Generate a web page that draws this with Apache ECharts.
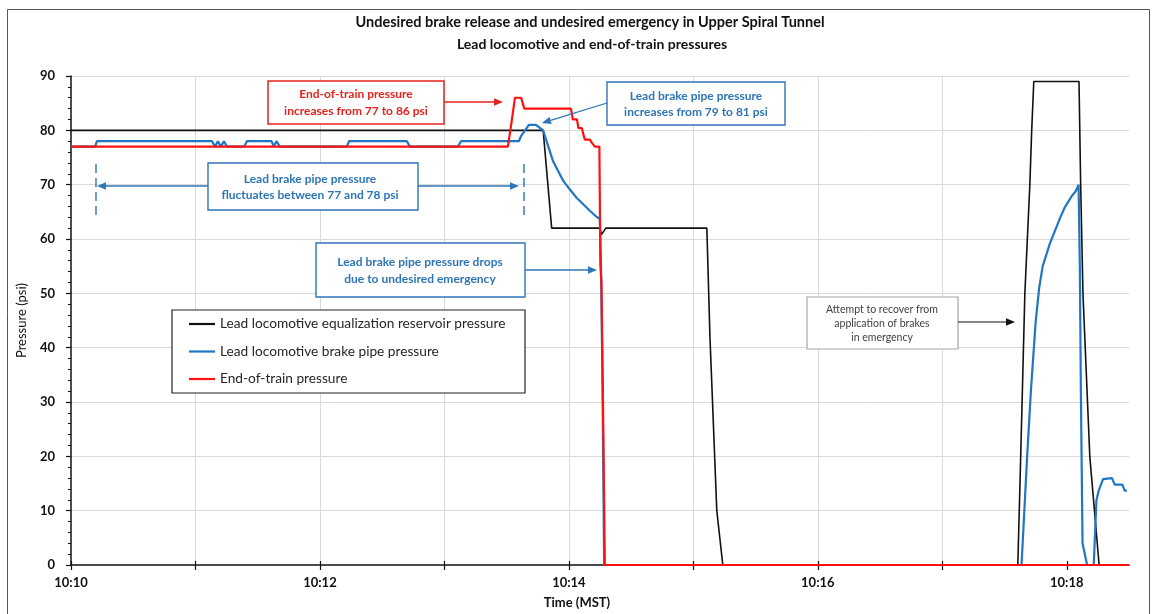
<!DOCTYPE html>
<html><head><meta charset="utf-8">
<script src="https://cdn.jsdelivr.net/npm/echarts@6/dist/echarts.min.js"></script>
<style>html,body{margin:0;padding:0;background:#fff}#c{width:1155px;height:614px}</style>
</head><body><div id="c"></div>
<script>
// time is in seconds after 10:10:00 (MST)
const xTickValues = [0, 120, 240, 360, 480];
const xTickLabels = ['10:10', '10:12', '10:14', '10:16', '10:18'];
const xMinorTicks = [0, 60, 120, 180, 240, 300, 360, 420, 480];
const seriesNames = ['Lead locomotive equalization reservoir pressure', 'Lead locomotive brake pipe pressure', 'End-of-train pressure'];

const eqReservoir = [[0,80],[227.6,80],[231.7,62],[254.9,62],[255.7,60.8],[257.8,62],[306.5,62],[308,42],[311.3,10],[314.2,0],
  [456.4,0],[457.8,20],[459.8,50],[462.2,70],[463.1,80],[464.1,89],[485.9,89],[486.7,70],[487.8,50],[491.1,20],[495.6,0],[510,0]];

const brakePipe = [[0,77],[11.6,77],[12.5,78],[68,78],[69.4,77],[70.8,78],[72.3,77],[73.7,78],[75.2,77],
  [83.5,77],[84.8,78],[96.7,78],[97.8,77],[99,78],[100.7,77],[133,77],[134,78],[161.9,78],[163.4,77],
  [186.5,77],[188,78],[215.9,78],[217,79],[217.8,79],[220.7,81],[224.1,81],[227.6,80],[230,77.1],[232.4,74.3],
  [234.8,72.5],[237.3,70.7],[240.5,69.1],[243.7,67.6],[246.9,66.4],[250.1,65.2],[253.3,64.1],[254.9,63.7],
  [255.5,55],[256.3,30],[257,0],[458.2,0],[460.9,20],[462.7,32],[465,44.7],[466.7,51],[468.4,55],[471.8,59.1],
  [476.6,63.7],[479,65.8],[482.4,67.9],[484.3,68.8],[485.7,70],[486.3,55],[486.8,32],[487.6,4],[489.8,0],
  [493,0],[494.3,11.9],[495.4,13.7],[497.5,15.8],[501.8,16],[503.1,14.8],[506.8,14.8],[507.9,13.7],[509,13.7]];

const endOfTrain = [[0,77],[210.6,77],[212.4,81.6],[214,86],[217,86],[218.5,84],[241,84],[241.9,82],[243.9,82],
  [244.6,80.4],[246.3,80.4],[247,79.2],[247.7,78.3],[250.1,78.3],[251.1,77.7],[252.5,77],[254.7,77],
  [255.2,55],[255.7,52],[256.6,25],[257.3,0],[510,0]];

const FONT = 'Lato, "Open Sans", "Liberation Sans", sans-serif';
const BLUE = '#2e75b6', RED = '#e3231d';
const LINE_ICON = 'path://M0 0H26V2.2H0Z';

function box(x, y, w, h, stroke, lw) {
  return {type:'rect', shape:{x:x, y:y, width:w, height:h}, style:{fill:'#fff', stroke:stroke, lineWidth:lw||1.4}, z:3, silent:true};
}
function txt(x, y, text, color, size, weight, lh) {
  return {type:'text', x:x, y:y, style:{text:text, fill:color, fontFamily:FONT, fontSize:size, fontWeight:weight||'bold',
    align:'center', verticalAlign:'middle', lineHeight:lh||16}, z:5, silent:true};
}
function arrow(x1, y1, x2, y2, color, lw) {
  const dx = x2 - x1, dy = y2 - y1, L = Math.sqrt(dx*dx + dy*dy), ux = dx/L, uy = dy/L;
  const hl = 9, hw = 3.8;
  const bx = x2 - ux*hl, by = y2 - uy*hl;
  return [
    {type:'line', shape:{x1:x1, y1:y1, x2:bx, y2:by}, style:{stroke:color, lineWidth:lw||1.3}, z:5, silent:true},
    {type:'polygon', shape:{points:[[x2,y2],[bx - uy*hw, by + ux*hw],[bx + uy*hw, by - ux*hw]]}, style:{fill:color}, z:5, silent:true}
  ];
}
function dashed(x, y1, y2, color) {
  return {type:'line', shape:{x1:x, y1:y1, x2:x, y2:y2}, style:{stroke:color, lineWidth:1.4, lineDash:[9,5]}, z:5, silent:true};
}

const graphics = [
  {type:'rect', shape:{x:7.5, y:9.5, width:1142, height:640}, style:{fill:null, stroke:'#555', lineWidth:1}, z:0, silent:true},
  txt(590, 22, 'Undesired brake release and undesired emergency in Upper Spiral Tunnel', '#111', 14.5, 'bold'),
  txt(592, 44, 'Lead locomotive and end-of-train pressures', '#111', 14, 'bold'),
  // legend frame
  box(172, 310, 353, 83, '#222', 1.2),
  // EOT annotation
  box(268, 81, 176, 43, RED, 1.5),
  txt(356, 103, 'End-of-train pressure\nincreases from 77 to 86 psi', RED, 12, 'bold', 17),
  ...arrow(444, 102, 503, 102, RED, 1.5),
  // BP increase annotation
  box(607, 82, 178, 43, BLUE),
  txt(696, 104, 'Lead brake pipe pressure\nincreases from 79 to 81 psi', BLUE, 12, 'bold', 16),
  ...arrow(607, 103, 542, 123, BLUE),
  // BP fluctuation annotation
  box(208, 163, 210, 47, BLUE),
  txt(310, 187, 'Lead brake pipe pressure\nfluctuates between 77 and 78 psi', BLUE, 12, 'bold', 16),
  ...arrow(208, 186, 97, 186, BLUE),
  ...arrow(418, 186, 519, 186, BLUE),
  dashed(96, 164, 216, BLUE),
  dashed(524, 164, 216, BLUE),
  // BP drop annotation
  box(316, 243, 209, 54, BLUE),
  txt(420, 270.5, 'Lead brake pipe pressure drops\ndue to undesired emergency', BLUE, 12, 'bold', 17),
  ...arrow(525, 270, 597, 270, BLUE),
  // recovery annotation
  box(807, 297, 151, 52, '#a6a6a6', 1.2),
  txt(882, 323.5, 'Attempt to recover from\napplication of brakes\nin emergency', '#404040', 10.5, 'normal', 14),
  ...arrow(958, 322, 1015, 322, '#111', 1.2)
];

const chart = echarts.init(document.getElementById('c'));
chart.setOption({
  animation: false,
  backgroundColor: '#fff',
  textStyle: {fontFamily: FONT},
  grid: {left: 71, right: 26, top: 76, bottom: 43},
  legend: {
    orient: 'vertical', left: 189, top: 317, padding: 0, itemGap: 13.5,
    itemWidth: 26, itemHeight: 14, selectedMode: false,
    textStyle: {fontFamily: FONT, fontSize: 13.7, color: '#262626'},
    data: seriesNames.map(function (n) { return {name: n, icon: LINE_ICON}; })
  },
  xAxis: [{
    type: 'value', min: 0, max: 510, interval: 120,
    name: 'Time (MST)', nameLocation: 'middle', nameGap: 31,
    nameTextStyle: {fontFamily: FONT, fontSize: 13, fontWeight: 'bold', color: '#111', padding: [0, 46, 0, 0]},
    axisLine: {show: true, lineStyle: {color: '#111', width: 1.5}},
    axisTick: {show: true, length: 5, customValues: xMinorTicks, lineStyle: {color: '#111', width: 1.2}},
    axisLabel: {customValues: xTickValues, margin: 11, fontFamily: FONT, fontSize: 13, fontWeight: 'bold', color: '#111',
      formatter: function (v) { const i = xTickValues.indexOf(Math.round(v)); return i >= 0 ? xTickLabels[i] : ''; }},
    splitLine: {show: true, showMinLine: false, showMaxLine: false, lineStyle: {color: '#d9d9d9', width: 1}}
  }, {
    type: 'value', min: 0, max: 510, interval: 120, position: 'bottom',
    axisLine: {show: false}, axisLabel: {show: false}, splitLine: {show: false},
    axisTick: {show: true, inside: true, length: 4, customValues: xMinorTicks, lineStyle: {color: '#111', width: 1.2}}
  }],
  yAxis: {
    type: 'value', min: 0, max: 90, interval: 10,
    name: 'Pressure (psi)', nameLocation: 'middle', nameGap: 43,
    nameTextStyle: {fontFamily: FONT, fontSize: 13, color: '#111'},
    axisLine: {show: true, lineStyle: {color: '#111', width: 1.5}},
    axisTick: {show: true, length: 5, lineStyle: {color: '#111', width: 1.2}},
    minorTick: {show: true, splitNumber: 5, length: 3, lineStyle: {color: '#111', width: 1}},
    axisLabel: {margin: 16, fontFamily: FONT, fontSize: 13, fontWeight: 'bold', color: '#111'},
    splitLine: {show: true, showMinLine: false, lineStyle: {color: '#d9d9d9', width: 1}}
  },
  series: [
    {name: seriesNames[0], type: 'line', data: eqReservoir, symbol: 'none', z: 2,
      lineStyle: {color: '#111', width: 1.6}, itemStyle: {color: '#111'}},
    {name: seriesNames[1], type: 'line', data: brakePipe, symbol: 'none', z: 2,
      lineStyle: {color: '#1f77c4', width: 2.2}, itemStyle: {color: '#1f77c4'}},
    {name: seriesNames[2], type: 'line', data: endOfTrain, symbol: 'none', z: 2,
      lineStyle: {color: '#ff1111', width: 2.2}, itemStyle: {color: '#ff1111'}}
  ],
  graphic: {elements: graphics}
});
</script></body></html>
